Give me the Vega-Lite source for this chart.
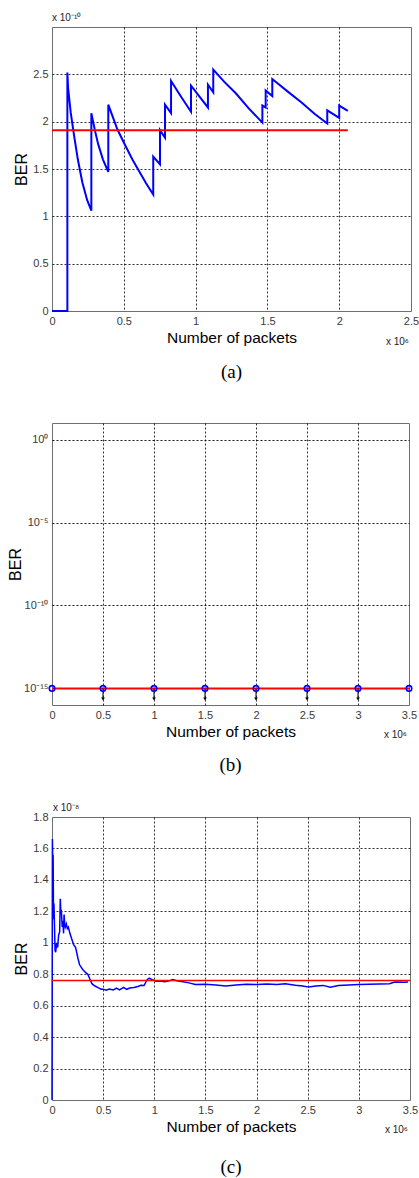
{
  "$schema": "https://vega.github.io/schema/vega-lite/v6.json",
  "background": "white",
  "padding": {"left": 7, "top": 12, "right": 0, "bottom": 0},
  "autosize": {"type": "pad"},
  "bounds": "flush",
  "spacing": 112,
  "config": {
    "view": {"stroke": "#6e6e6e", "strokeWidth": 1},
    "axis": {
      "labelFont": "Liberation Sans", "labelFontSize": 11, "labelColor": "#3a3a3a",
      "titleFont": "Liberation Sans", "titleFontWeight": "normal", "titleColor": "#000",
      "domain": false, "ticks": false, "labelPadding": 4,
      "gridColor": "#000", "gridDash": [2, 2], "gridWidth": 1, "gridOpacity": 0.9,
      "labelFlush": false, "labelOverlap": false
    },
    "axisX": {"titleFontSize": 15.5, "titlePadding": 4},
    "axisY": {"titleFontSize": 16, "titlePadding": 3},
    "title": {"font": "Liberation Serif", "fontSize": 19, "fontWeight": "normal", "color": "#000"},
    "text": {"font": "Liberation Sans", "fontSize": 10, "color": "#222"}
  },
  "datasets": {
    "a_ber": [
      {"packets": 0, "ber": 0}, {"packets": 0.107, "ber": 0}, {"packets": 0.107, "ber": 2.52},
      {"packets": 0.112, "ber": 2.36}, {"packets": 0.13, "ber": 2.1}, {"packets": 0.153, "ber": 1.86},
      {"packets": 0.18, "ber": 1.6}, {"packets": 0.211, "ber": 1.36},
      {"packets": 0.245, "ber": 1.17}, {"packets": 0.274, "ber": 1.06}, {"packets": 0.274, "ber": 2.09},
      {"packets": 0.3, "ber": 1.9}, {"packets": 0.322, "ber": 1.76}, {"packets": 0.355, "ber": 1.6},
      {"packets": 0.392, "ber": 1.47}, {"packets": 0.392, "ber": 2.18},
      {"packets": 0.455, "ber": 1.92}, {"packets": 0.513, "ber": 1.74}, {"packets": 0.56, "ber": 1.6},
      {"packets": 0.606, "ber": 1.48}, {"packets": 0.655, "ber": 1.35},
      {"packets": 0.705, "ber": 1.23}, {"packets": 0.705, "ber": 1.63}, {"packets": 0.752, "ber": 1.55},
      {"packets": 0.752, "ber": 1.91}, {"packets": 0.787, "ber": 1.83}, {"packets": 0.787, "ber": 2.18},
      {"packets": 0.829, "ber": 2.09}, {"packets": 0.829, "ber": 2.43}, {"packets": 0.9, "ber": 2.26},
      {"packets": 0.968, "ber": 2.105}, {"packets": 0.968, "ber": 2.38}, {"packets": 1.03, "ber": 2.26},
      {"packets": 1.086, "ber": 2.15}, {"packets": 1.086, "ber": 2.39}, {"packets": 1.123, "ber": 2.31},
      {"packets": 1.123, "ber": 2.55}, {"packets": 1.2, "ber": 2.42}, {"packets": 1.28, "ber": 2.3},
      {"packets": 1.37, "ber": 2.14}, {"packets": 1.465, "ber": 1.99},
      {"packets": 1.465, "ber": 2.17}, {"packets": 1.488, "ber": 2.15}, {"packets": 1.488, "ber": 2.33},
      {"packets": 1.534, "ber": 2.27}, {"packets": 1.534, "ber": 2.45}, {"packets": 1.64, "ber": 2.32},
      {"packets": 1.74, "ber": 2.2}, {"packets": 1.83, "ber": 2.08},
      {"packets": 1.917, "ber": 1.98}, {"packets": 1.917, "ber": 2.12}, {"packets": 2.0, "ber": 2.04},
      {"packets": 2.0, "ber": 2.17}, {"packets": 2.06, "ber": 2.115}
    ],
    "a_ref": [{"packets": 0, "ber": 1.91}, {"packets": 2.06, "ber": 1.91}],
    "b_pts": [
      {"packets": 0, "ber": 1e-15}, {"packets": 0.5, "ber": 1e-15}, {"packets": 1, "ber": 1e-15},
      {"packets": 1.5, "ber": 1e-15}, {"packets": 2, "ber": 1e-15}, {"packets": 2.5, "ber": 1e-15},
      {"packets": 3, "ber": 1e-15}, {"packets": 3.5, "ber": 1e-15}
    ],
    "b_ref": [{"packets": 0, "ber": 1e-15}, {"packets": 3.5, "ber": 1e-15}],
    "b_arrow": [
      {"packets": 0.5, "ber": 1e-15, "tip": 2.3e-16}, {"packets": 1, "ber": 1e-15, "tip": 2.3e-16},
      {"packets": 1.5, "ber": 1e-15, "tip": 2.3e-16}, {"packets": 2, "ber": 1e-15, "tip": 2.3e-16},
      {"packets": 2.5, "ber": 1e-15, "tip": 2.3e-16}, {"packets": 3, "ber": 1e-15, "tip": 2.3e-16}
    ],
    "c_ber": [
      {"packets": 0, "ber": 0}, {"packets": 0.004, "ber": 1.66}, {"packets": 0.008, "ber": 1.45},
      {"packets": 0.011, "ber": 1.56}, {"packets": 0.015, "ber": 1.15}, {"packets": 0.019, "ber": 1.25},
      {"packets": 0.024, "ber": 1.12}, {"packets": 0.03, "ber": 0.95}, {"packets": 0.036, "ber": 0.94},
      {"packets": 0.045, "ber": 1.0}, {"packets": 0.055, "ber": 0.97}, {"packets": 0.065, "ber": 1.05},
      {"packets": 0.075, "ber": 1.07}, {"packets": 0.081, "ber": 1.28}, {"packets": 0.086, "ber": 1.2},
      {"packets": 0.091, "ber": 1.21}, {"packets": 0.1, "ber": 1.1}, {"packets": 0.107, "ber": 1.14},
      {"packets": 0.113, "ber": 1.06}, {"packets": 0.118, "ber": 1.18}, {"packets": 0.124, "ber": 1.12},
      {"packets": 0.13, "ber": 1.1}, {"packets": 0.14, "ber": 1.12}, {"packets": 0.15, "ber": 1.09},
      {"packets": 0.16, "ber": 1.1}, {"packets": 0.175, "ber": 1.06}, {"packets": 0.19, "ber": 1.03},
      {"packets": 0.21, "ber": 0.99}, {"packets": 0.231, "ber": 0.97}, {"packets": 0.254, "ber": 0.9},
      {"packets": 0.27, "ber": 0.86}, {"packets": 0.3, "ber": 0.83}, {"packets": 0.33, "ber": 0.81},
      {"packets": 0.35, "ber": 0.8}, {"packets": 0.37, "ber": 0.77}, {"packets": 0.39, "ber": 0.74},
      {"packets": 0.42, "ber": 0.725}, {"packets": 0.45, "ber": 0.715}, {"packets": 0.48, "ber": 0.705},
      {"packets": 0.5, "ber": 0.705}, {"packets": 0.53, "ber": 0.698}, {"packets": 0.56, "ber": 0.706},
      {"packets": 0.6, "ber": 0.7}, {"packets": 0.63, "ber": 0.712}, {"packets": 0.66, "ber": 0.7},
      {"packets": 0.7, "ber": 0.716}, {"packets": 0.73, "ber": 0.704}, {"packets": 0.76, "ber": 0.712},
      {"packets": 0.8, "ber": 0.716}, {"packets": 0.84, "ber": 0.722}, {"packets": 0.87, "ber": 0.73},
      {"packets": 0.9, "ber": 0.728}, {"packets": 0.93, "ber": 0.765}, {"packets": 0.95, "ber": 0.775},
      {"packets": 0.98, "ber": 0.765}, {"packets": 1.02, "ber": 0.755}, {"packets": 1.06, "ber": 0.757},
      {"packets": 1.1, "ber": 0.752}, {"packets": 1.14, "ber": 0.756}, {"packets": 1.18, "ber": 0.766},
      {"packets": 1.22, "ber": 0.758}, {"packets": 1.28, "ber": 0.752}, {"packets": 1.34, "ber": 0.745},
      {"packets": 1.4, "ber": 0.735}, {"packets": 1.5, "ber": 0.736}, {"packets": 1.6, "ber": 0.732},
      {"packets": 1.7, "ber": 0.725}, {"packets": 1.8, "ber": 0.731}, {"packets": 1.9, "ber": 0.736},
      {"packets": 2.0, "ber": 0.734}, {"packets": 2.1, "ber": 0.738}, {"packets": 2.2, "ber": 0.735},
      {"packets": 2.28, "ber": 0.739}, {"packets": 2.38, "ber": 0.73}, {"packets": 2.45, "ber": 0.725},
      {"packets": 2.51, "ber": 0.718}, {"packets": 2.58, "ber": 0.725}, {"packets": 2.65, "ber": 0.729},
      {"packets": 2.72, "ber": 0.718}, {"packets": 2.8, "ber": 0.728}, {"packets": 2.9, "ber": 0.731},
      {"packets": 3.0, "ber": 0.734}, {"packets": 3.1, "ber": 0.736}, {"packets": 3.2, "ber": 0.738},
      {"packets": 3.3, "ber": 0.74}, {"packets": 3.35, "ber": 0.75}, {"packets": 3.45, "ber": 0.749},
      {"packets": 3.48, "ber": 0.75}
    ],
    "c_ref": [{"packets": 0, "ber": 0.76}, {"packets": 3.5, "ber": 0.76}]
  },
  "vconcat": [
    {
      "width": 359, "height": 284,
      "title": {"text": "(a)", "orient": "bottom", "offset": 16},
      "layer": [
        {
          "data": {"name": "a_ber"},
          "mark": {"type": "line", "color": "#0000ff", "strokeWidth": 2},
          "encoding": {
            "x": {"field": "packets", "type": "quantitative", "title": "Number of packets",
                  "scale": {"domain": [0, 2.5], "nice": false},
                  "axis": {"values": [0, 0.5, 1, 1.5, 2, 2.5], "format": "~g", "tickCount": 30,
                           "gridOpacity": {"condition": {"test": "datum.value <= 0 || datum.value >= 2.5", "value": 0}, "value": 0.9}}},
            "y": {"field": "ber", "type": "quantitative", "title": "BER",
                  "scale": {"domain": [0, 3], "nice": false},
                  "axis": {"values": [0, 0.5, 1, 1.5, 2, 2.5], "format": "~g", "tickCount": 30,
                           "gridOpacity": {"condition": {"test": "datum.value <= 0", "value": 0}, "value": 0.9}}},
            "order": {"value": null}
          }
        },
        {
          "data": {"name": "a_ref"},
          "mark": {"type": "line", "color": "#ff0000", "strokeWidth": 2},
          "encoding": {
            "x": {"field": "packets", "type": "quantitative", "title": "Number of packets"},
            "y": {"field": "ber", "type": "quantitative", "title": "BER"}
          }
        },
        {
          "data": {"values": [{"packets": 0, "ber": 3, "t": "x 10⁻¹⁰"}]},
          "mark": {"type": "text", "align": "left", "baseline": "alphabetic", "dy": -6, "clip": false},
          "encoding": {
            "x": {"field": "packets", "type": "quantitative", "title": "Number of packets"},
            "y": {"field": "ber", "type": "quantitative", "title": "BER"},
            "text": {"field": "t"}
          }
        },
        {
          "data": {"values": [{"packets": 2.5, "ber": 0, "t": "x 10⁶"}]},
          "mark": {"type": "text", "align": "right", "baseline": "alphabetic", "dy": 34, "dx": -2, "clip": false},
          "encoding": {
            "x": {"field": "packets", "type": "quantitative", "title": "Number of packets"},
            "y": {"field": "ber", "type": "quantitative", "title": "BER"},
            "text": {"field": "t"}
          }
        }
      ]
    },
    {
      "width": 357, "height": 282,
      "title": {"text": "(b)", "orient": "bottom", "offset": 16},
      "layer": [
        {
          "data": {"name": "b_ref"},
          "mark": {"type": "line", "color": "#ff0000", "strokeWidth": 2},
          "encoding": {
            "x": {"field": "packets", "type": "quantitative", "title": "Number of packets",
                  "scale": {"domain": [0, 3.5], "nice": false},
                  "axis": {"values": [0, 0.5, 1, 1.5, 2, 2.5, 3, 3.5], "format": "~g", "tickCount": 30,
                           "gridOpacity": {"condition": {"test": "datum.value <= 0 || datum.value >= 3.5", "value": 0}, "value": 0.9}}},
            "y": {"field": "ber", "type": "quantitative", "title": "BER",
                  "scale": {"type": "log", "domain": [1e-16, 10], "nice": false},
                  "axis": {"values": [1e-15, 1e-10, 1e-5, 1], "tickCount": 30, "titlePadding": 0,
                           "labelExpr": "datum.value >= 0.5 ? '10⁰' : datum.value >= 5e-6 ? '10⁻⁵' : datum.value >= 5e-11 ? '10⁻¹⁰' : '10⁻¹⁵'"}}
          }
        },
        {
          "data": {"name": "b_arrow"},
          "mark": {"type": "rule", "color": "#000", "strokeWidth": 1},
          "encoding": {
            "x": {"field": "packets", "type": "quantitative", "title": "Number of packets"},
            "y": {"field": "ber", "type": "quantitative", "title": "BER"},
            "y2": {"field": "tip"}
          }
        },
        {
          "data": {"name": "b_arrow"},
          "mark": {"type": "point", "shape": "triangle-down", "filled": true, "color": "#000", "size": 14, "opacity": 1},
          "encoding": {
            "x": {"field": "packets", "type": "quantitative", "title": "Number of packets"},
            "y": {"field": "tip", "type": "quantitative", "title": "BER"}
          }
        },
        {
          "data": {"name": "b_pts"},
          "mark": {"type": "point", "shape": "circle", "filled": false, "color": "#0000ff", "strokeWidth": 1.6, "size": 30, "opacity": 1, "clip": false},
          "encoding": {
            "x": {"field": "packets", "type": "quantitative", "title": "Number of packets"},
            "y": {"field": "ber", "type": "quantitative", "title": "BER"}
          }
        },
        {
          "data": {"values": [{"packets": 3.5, "ber": 1e-16, "t": "x 10⁶"}]},
          "mark": {"type": "text", "align": "right", "baseline": "alphabetic", "dy": 33, "dx": -2, "clip": false},
          "encoding": {
            "x": {"field": "packets", "type": "quantitative", "title": "Number of packets"},
            "y": {"field": "ber", "type": "quantitative", "title": "BER"},
            "text": {"field": "t"}
          }
        }
      ]
    },
    {
      "width": 358, "height": 283,
      "title": {"text": "(c)", "orient": "bottom", "offset": 23},
      "layer": [
        {
          "data": {"name": "c_ber"},
          "mark": {"type": "line", "color": "#0000ff", "strokeWidth": 1.5},
          "encoding": {
            "x": {"field": "packets", "type": "quantitative", "title": "Number of packets",
                  "scale": {"domain": [0, 3.5], "nice": false},
                  "axis": {"values": [0, 0.5, 1, 1.5, 2, 2.5, 3, 3.5], "format": "~g", "tickCount": 30,
                           "gridOpacity": {"condition": {"test": "datum.value <= 0 || datum.value >= 3.5", "value": 0}, "value": 0.9}}},
            "y": {"field": "ber", "type": "quantitative", "title": "BER",
                  "scale": {"domain": [0, 1.8], "nice": false},
                  "axis": {"values": [0, 0.2, 0.4, 0.6, 0.8, 1, 1.2, 1.4, 1.6, 1.8], "format": "~g", "tickCount": 30,
                           "gridOpacity": {"condition": {"test": "datum.value <= 0 || datum.value >= 1.8", "value": 0}, "value": 0.9}}},
            "order": {"value": null}
          }
        },
        {
          "data": {"name": "c_ref"},
          "mark": {"type": "line", "color": "#ff0000", "strokeWidth": 1.5},
          "encoding": {
            "x": {"field": "packets", "type": "quantitative", "title": "Number of packets"},
            "y": {"field": "ber", "type": "quantitative", "title": "BER"}
          }
        },
        {
          "data": {"values": [{"packets": 0, "ber": 1.8, "t": "x 10⁻⁸"}]},
          "mark": {"type": "text", "align": "left", "baseline": "alphabetic", "dy": -6, "dx": 1, "clip": false},
          "encoding": {
            "x": {"field": "packets", "type": "quantitative", "title": "Number of packets"},
            "y": {"field": "ber", "type": "quantitative", "title": "BER"},
            "text": {"field": "t"}
          }
        },
        {
          "data": {"values": [{"packets": 3.5, "ber": 0, "t": "x 10⁶"}]},
          "mark": {"type": "text", "align": "right", "baseline": "alphabetic", "dy": 33, "dx": -2, "clip": false},
          "encoding": {
            "x": {"field": "packets", "type": "quantitative", "title": "Number of packets"},
            "y": {"field": "ber", "type": "quantitative", "title": "BER"},
            "text": {"field": "t"}
          }
        }
      ]
    }
  ]
}
